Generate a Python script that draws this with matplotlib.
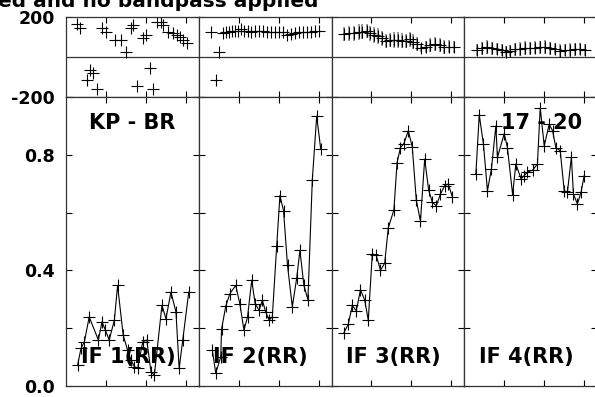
import numpy as np
import matplotlib.pyplot as plt

plt.rcParams['font.family'] = 'DejaVu Sans'
plt.rcParams['font.weight'] = 'bold'
plt.rcParams['axes.unicode_minus'] = False

# time axis (arbitrary units, ticks every 10)
if_names = ['IF 1(RR)', 'IF 2(RR)', 'IF 3(RR)', 'IF 4(RR)']

amp_t1 = [2.9, 3.75, 4.6, 5.8, 8.1, 9.0, 9.8, 10.8, 12.1, 12.9, 14.3, 15.4, 16.25,
          17.1, 17.9, 19.2, 20.2, 21.25, 22.1, 24.0, 25.0, 26.25, 27.5, 28.3, 29.2, 30.7]
amp_v1 = [0.072, 0.130, 0.153, 0.239, 0.159, 0.222, 0.195, 0.159, 0.228, 0.348, 0.176,
          0.124, 0.090, 0.067, 0.061, 0.153, 0.159, 0.049, 0.038, 0.279, 0.233, 0.325,
          0.256, 0.061, 0.159, 0.325]

amp_t2 = [3.4, 4.25, 5.5, 5.7, 6.75, 7.8, 9.25, 10.3, 11.3, 12.2, 13.25, 14.1, 15.1,
          15.9, 16.75, 17.6, 18.4, 19.5, 20.3, 21.2, 22.2, 23.4, 24.5, 25.3, 26.3, 27.3,
          28.4, 29.5, 30.5]
amp_v2 = [0.124, 0.044, 0.101, 0.196, 0.276, 0.320, 0.348, 0.283, 0.193, 0.239, 0.366,
          0.285, 0.262, 0.297, 0.256, 0.228, 0.239, 0.486, 0.659, 0.607, 0.417, 0.274,
          0.374, 0.469, 0.348, 0.299, 0.713, 0.934, 0.820]

amp_t3 = [3.1, 4.2, 5.2, 6.2, 7.25, 8.3, 9.2, 10.2, 11.2, 12.25, 13.3, 14.2, 15.6, 16.4,
          17.25, 18.1, 19.2, 20.2, 21.2, 22.25, 23.3, 24.3, 25.2, 26.2, 27.25, 28.3, 29.2, 30.2]
amp_v3 = [0.184, 0.214, 0.279, 0.260, 0.333, 0.297, 0.228, 0.457, 0.452, 0.400, 0.425,
          0.547, 0.609, 0.773, 0.825, 0.839, 0.883, 0.828, 0.644, 0.570, 0.785, 0.678,
          0.636, 0.624, 0.664, 0.693, 0.699, 0.655]

amp_t4 = [2.9, 3.75, 4.8, 5.8, 6.8, 7.9, 8.3, 10.0, 10.8, 12.1, 12.9, 14.2, 15.0, 15.8,
          17.1, 18.3, 19.0, 20.0, 21.25, 22.1, 22.9, 24.0, 25.0, 25.8, 26.8, 27.3, 28.3,
          29.2, 30.0]
amp_v4 = [0.733, 0.938, 0.837, 0.676, 0.751, 0.900, 0.791, 0.873, 0.825, 0.662, 0.768,
          0.717, 0.728, 0.740, 0.747, 0.768, 0.963, 0.831, 0.906, 0.883, 0.825, 0.814,
          0.676, 0.670, 0.793, 0.664, 0.630, 0.670, 0.728]

ph_t1 = [2.8, 3.5, 5.3, 6.0, 6.7, 7.8, 8.9, 10.0, 12.25, 13.7, 15.0, 16.2, 16.8, 17.7,
         19.3, 20.0, 21.0, 21.8, 22.7, 23.75, 24.3, 25.6, 26.7, 27.7, 28.5, 29.3, 30.2]
ph_v1 = [165, 143, -115, -65, -82, -162, 143, 127, 85, 85, 27, 143, 160, -145,
         93, 110, -57, -162, 177, 177, 160, 127, 118, 110, 102, 85, 68]

ph_t2 = [3.0, 4.25, 5.1, 6.0, 6.75, 7.5, 8.25, 9.0, 9.75, 10.5, 11.25, 12.25, 13.0, 14.0,
         15.0, 16.0, 17.0, 18.0, 19.0, 20.0, 21.0, 22.0, 23.0, 24.0, 25.0, 26.0, 27.0,
         28.0, 29.0, 30.0]
ph_v2 = [127, -115, 27, 118, 125, 127, 128, 130, 130, 140, 132, 128, 127, 128,
         128, 130, 127, 127, 125, 125, 125, 110, 113, 122, 125, 123, 125, 125, 128, 130]

ph_t3 = [3.1, 4.3, 5.6, 6.8, 7.7, 8.9, 9.75, 10.6, 11.6, 12.7, 13.7, 14.75, 15.75, 16.6,
         17.7, 18.75, 19.6, 20.4, 21.4, 22.5, 23.75, 24.75, 26.0, 27.1, 28.25, 29.3, 30.6]
ph_v3 = [115, 118, 118, 123, 127, 130, 118, 110, 105, 93, 82, 85, 85, 85,
         82, 82, 88, 77, 65, 43, 52, 60, 65, 60, 52, 52, 48]
ph_e3 = [35, 38, 36, 40, 38, 35, 36, 38, 40, 37, 35, 36, 38, 40,
         36, 35, 38, 36, 35, 20, 30, 34, 36, 33, 35, 32, 30]

ph_t4 = [3.2, 4.4, 5.7, 6.9, 8.2, 9.4, 10.5, 11.5, 12.75, 14.0, 15.25, 16.5, 17.75, 19.0,
         20.25, 21.5, 22.75, 24.0, 25.25, 26.5, 27.75, 29.0, 30.25]
ph_v4 = [35, 43, 48, 43, 38, 35, 27, 32, 38, 40, 43, 43, 47, 48,
         48, 43, 38, 32, 35, 35, 38, 38, 35]
ph_e4 = [30, 32, 35, 33, 30, 32, 30, 28, 32, 33, 35, 33, 32, 34,
         35, 33, 30, 32, 30, 33, 32, 30, 31]

amp_t = [amp_t1, amp_t2, amp_t3, amp_t4]
amp_v = [amp_v1, amp_v2, amp_v3, amp_v4]
ph_t = [ph_t1, ph_t2, ph_t3, ph_t4]
ph_v = [ph_v1, ph_v2, ph_v3, ph_v4]
ph_e = [None, None, ph_e3, ph_e4]

fig = plt.figure(figsize=(5.95, 3.97), dpi=100)

W, H = 595.0, 397.0
x0 = 66.0
pw = 132.75

for i in range(4):
    left = (x0 + i * pw) / W
    axp = fig.add_axes([left, (H - 97) / H, pw / W, 80 / H])
    axa = fig.add_axes([left, (H - 386) / H, pw / W, 289 / H])

    for ax in (axp, axa):
        ax.set_xlim(0, 33.2)
        ax.set_xticks([10, 20, 30])
        ax.tick_params(direction='in', top=True, right=True, length=4.5, width=0.8,
                       labelbottom=False, labelsize=12.5, pad=8)
        for s in ax.spines.values():
            s.set_color('#333333')
            s.set_linewidth(0.9)

    # phase panel
    axp.set_ylim(-200, 200)
    axp.set_yticks([-200, 200])
    axp.axhline(0, color='#333333', lw=0.9)
    if ph_e[i] is not None:
        axp.errorbar(ph_t[i], ph_v[i], yerr=ph_e[i], fmt='none', ecolor='#888888',
                     elinewidth=1.2, capsize=0)
    axp.plot(ph_t[i], ph_v[i], '+', color='black', ms=8, mew=0.8)

    # amplitude panel
    axa.set_ylim(0, 0.995)
    axa.set_yticks([0.0, 0.2, 0.4, 0.6, 0.8, 1.0])
    axa.set_yticklabels(['0.0', '', '0.4', '', '0.8', ''])
    axa.plot(amp_t[i], amp_v[i], '-', color='black', lw=0.8)
    axa.plot(amp_t[i], amp_v[i], '+', color='black', ms=8, mew=0.8)
    axa.text(0.11, 0.10, if_names[i], transform=axa.transAxes, fontsize=15,
             fontweight='bold', ha='left', va='center')

    if i > 0:
        axp.tick_params(labelleft=False)
        axa.tick_params(labelleft=False)

    if i == 0:
        axa.text(0.5, 0.91, 'KP - BR', transform=axa.transAxes, fontsize=15,
                 fontweight='bold', ha='center', va='center')
    if i == 3:
        axa.text(0.584, 0.91, '17 - 20', transform=axa.transAxes, fontsize=15,
                 fontweight='bold', ha='center', va='center')

# title line is cut off at the top edge in the original
fig.text(-0.003, 1 - 7 / H, 'ed and no bandpass applied', fontsize=14.5,
         fontweight='bold', ha='left', va='baseline')

fig.savefig('out.png', dpi=100)
